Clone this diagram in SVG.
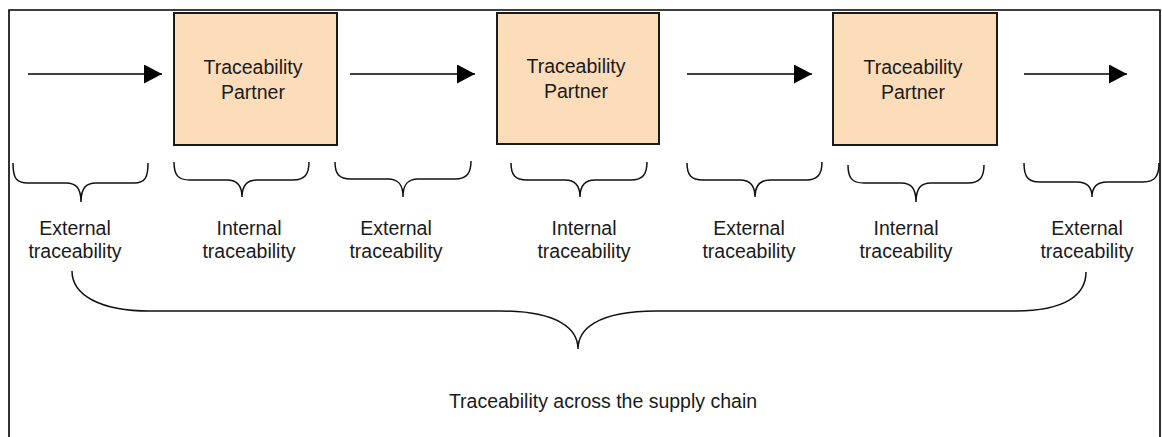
<svg xmlns="http://www.w3.org/2000/svg" width="1162" height="437" viewBox="0 0 1162 437">
<defs>
<style>
.t{font-family:"Liberation Sans",Arial,sans-serif;font-size:19.5px;fill:#1a1a1a;text-anchor:middle}
.box{fill:#FCDCB9;stroke:#1a1a1a;stroke-width:2}
.ln{fill:none;stroke:#000;stroke-width:1.6}
.br{fill:none;stroke:#111;stroke-width:1.5}
</style>
<marker id="ah" viewBox="0 0 12 12" refX="12" refY="6" markerWidth="12" markerHeight="12" markerUnits="userSpaceOnUse" orient="auto">
<path d="M0,0 L12,6 L0,12 Z" fill="#000"/>
</marker>
<marker id="ah2" viewBox="0 0 18 19" refX="18" refY="9.5" markerWidth="18" markerHeight="19" markerUnits="userSpaceOnUse" orient="auto">
<path d="M0,0 L18,9.5 L0,19 Z" fill="#000"/>
</marker>
</defs>
<rect width="1162" height="437" fill="#fff"/>
<path d="M9,440 L9,10 L1160,10 L1160,440" fill="none" stroke="#000" stroke-width="1.6"/>

<g id="partner1">
<rect class="box" x="174" y="13" width="163" height="132"/>
<text class="t" x="253" y="74">Traceability</text>
<text class="t" x="253" y="99">Partner</text>
</g>
<g id="partner2">
<rect class="box" x="497" y="13" width="162" height="131"/>
<text class="t" x="576" y="73">Traceability</text>
<text class="t" x="576" y="98">Partner</text>
</g>
<g id="partner3">
<rect class="box" x="833" y="13" width="164" height="132"/>
<text class="t" x="913" y="74">Traceability</text>
<text class="t" x="913" y="99">Partner</text>
</g>

<g id="connectors">
<line class="ln" x1="28" y1="74" x2="162" y2="74" marker-end="url(#ah2)"/>
<line class="ln" x1="350" y1="74" x2="475" y2="74" marker-end="url(#ah2)"/>
<line class="ln" x1="687" y1="74" x2="812" y2="74" marker-end="url(#ah2)"/>
<line class="ln" x1="1024" y1="74" x2="1127" y2="74" marker-end="url(#ah2)"/>
</g>

<g id="braces">
<path class="br" d="M13,163 C13,178 16,183 28,183 L66,183 C76,183 81,188 81,202 C81,188 86,183 96,183 L134,183 C146,183 148,176 148,163"/>
<path class="br" d="M174,162 C174,175 178,180 190,180 L227,180 C237,180 242,185 242,197 C242,185 247,180 257,180 L293,180 C305,180 309,174 309,162"/>
<path class="br" d="M335,162 C335,174 339,179 351,179 L388,179 C398,179 403,184 403,197 C403,184 408,179 418,179 L455,179 C467,179 471,173 471,161"/>
<path class="br" d="M511,163 C511,175 515,180 527,180 L565,180 C575,180 580,185 580,197 C580,185 585,180 595,180 L631,180 C643,180 647,174 647,162"/>
<path class="br" d="M687,163 C687,175 691,180 703,180 L740,180 C750,180 755,185 755,197 C755,185 760,180 770,180 L806,180 C818,180 822,174 822,162"/>
<path class="br" d="M848,165 C848,178 852,183 864,183 L901,183 C911,183 916,188 916,202 C916,188 921,183 931,183 L968,183 C980,183 984,177 984,165"/>
<path class="br" d="M1024,163 C1024,177 1028,182 1040,182 L1077,182 C1087,182 1092,187 1092,197 C1092,187 1097,182 1107,182 L1143,182 C1155,182 1159,176 1159,163"/>
<path class="br" d="M72,271 C72,295 100,311 150,311 L500,311 C560,311 578,330 578,349 C578,330 596,311 656,311 L1015,311 C1065,311 1086,295 1086,272"/>
</g>

<g id="labels">
<text class="t" x="75" y="235">External</text>
<text class="t" x="75" y="258">traceability</text>
<text class="t" x="249" y="235">Internal</text>
<text class="t" x="249" y="258">traceability</text>
<text class="t" x="396" y="235">External</text>
<text class="t" x="396" y="258">traceability</text>
<text class="t" x="584" y="235">Internal</text>
<text class="t" x="584" y="258">traceability</text>
<text class="t" x="749" y="235">External</text>
<text class="t" x="749" y="258">traceability</text>
<text class="t" x="906" y="235">Internal</text>
<text class="t" x="906" y="258">traceability</text>
<text class="t" x="1087" y="235">External</text>
<text class="t" x="1087" y="258">traceability</text>
<text class="t" x="603" y="408">Traceability across the supply chain</text>
</g>
</svg>
